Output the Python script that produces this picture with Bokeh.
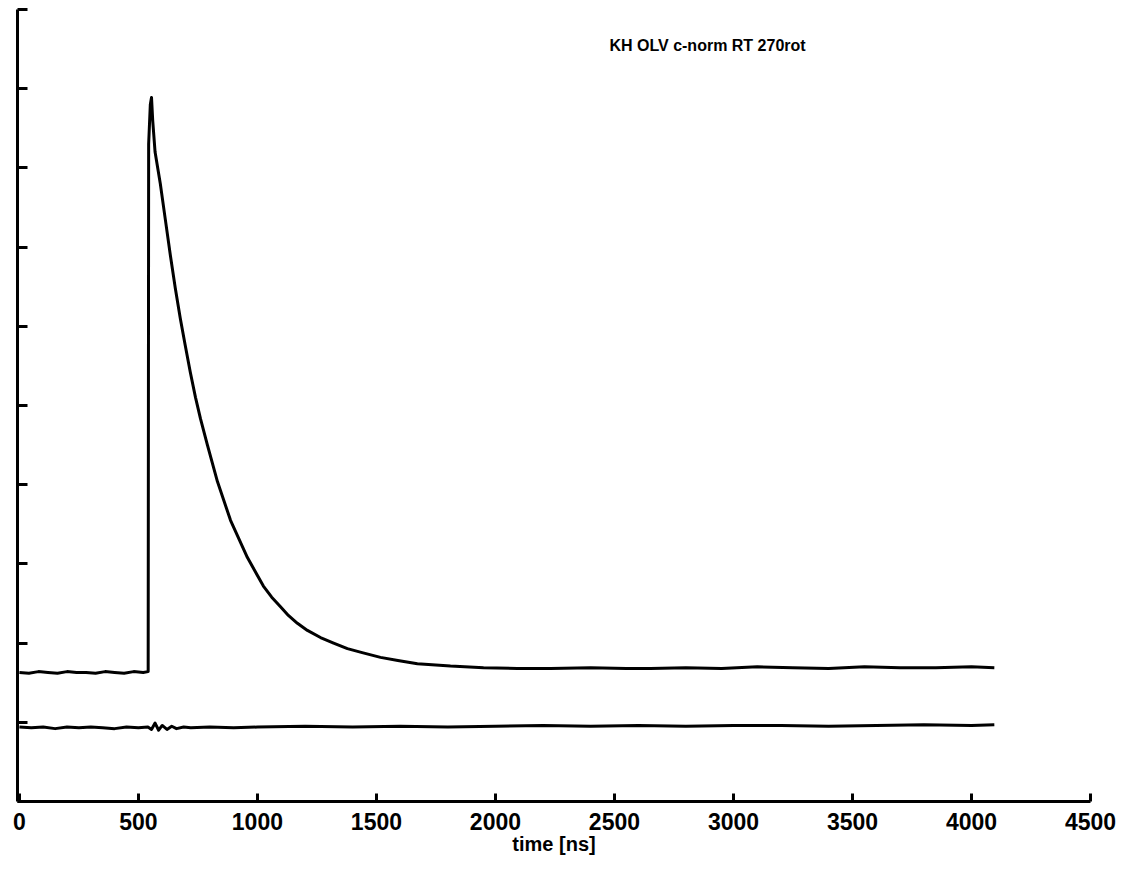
from bokeh.plotting import figure
from bokeh.models import Range1d, Label, FixedTicker
from bokeh.embed import file_html
from bokeh.resources import INLINE

# upper trace (decay signal), time [ns] and value
upper_t = [0, 40, 80, 120, 160, 200, 240, 280, 320, 360, 400, 440, 480, 520, 541,
           543, 550, 555, 560, 570, 592, 613, 634, 655, 676, 696, 718, 740, 761, 790,
           832, 887, 958, 1025, 1060, 1097, 1130, 1168, 1210, 1265, 1320, 1378, 1440,
           1517, 1590, 1672, 1811, 1950, 2092, 2231, 2400, 2550, 2651, 2800, 2950,
           3100, 3250, 3400, 3550, 3700, 3850, 4000, 4096]
upper_v = [1.63, 1.62, 1.64, 1.63, 1.62, 1.64, 1.63, 1.63, 1.62, 1.64, 1.63, 1.62, 1.64, 1.63, 1.64,
           8.30, 8.80, 8.89, 8.60, 8.20, 7.80, 7.35, 6.90, 6.48, 6.10, 5.77, 5.42, 5.10, 4.83, 4.50,
           4.04, 3.55, 3.08, 2.72, 2.58, 2.46, 2.35, 2.25, 2.16, 2.07, 2.00, 1.93, 1.88,
           1.82, 1.78, 1.74, 1.71, 1.69, 1.68, 1.68, 1.69, 1.68, 1.68, 1.69, 1.68,
           1.70, 1.69, 1.68, 1.70, 1.69, 1.69, 1.70, 1.69]

# lower trace (reference), time [ns] and value
lower_t = [0, 50, 100, 150, 200, 250, 300, 350, 400, 450, 500, 540, 555, 570, 585,
           600, 620, 640, 660, 690, 720, 800, 900, 1000, 1200, 1400, 1600, 1800,
           2000, 2200, 2400, 2600, 2800, 3000, 3200, 3400, 3600, 3800, 4000, 4096]
lower_v = [0.94, 0.93, 0.94, 0.92, 0.94, 0.93, 0.94, 0.93, 0.92, 0.94, 0.93, 0.94, 0.91, 0.99, 0.90,
           0.96, 0.91, 0.95, 0.92, 0.94, 0.93, 0.94, 0.93, 0.94, 0.95, 0.94, 0.95, 0.94,
           0.95, 0.96, 0.95, 0.96, 0.95, 0.96, 0.96, 0.95, 0.96, 0.97, 0.96, 0.97]

x_ticks = [0, 500, 1000, 1500, 2000, 2500, 3000, 3500, 4000, 4500]
y_ticks = [0, 1, 2, 3, 4, 5, 6, 7, 8, 9, 10]
title_text = "KH OLV c-norm RT 270rot"
x_label = "time [ns]"

p = figure(width=1132, height=871, output_backend="svg", toolbar_location=None,
           x_range=Range1d(-8, 4500), y_range=Range1d(0, 10),
           min_border_left=17, min_border_right=42, min_border_top=9, min_border_bottom=70)
p.outline_line_color = None
p.xgrid.visible = False
p.ygrid.visible = False
p.background_fill_color = "white"
p.border_fill_color = "white"

p.line(upper_t, upper_v, line_color="black", line_width=3, line_join="round")
p.line(lower_t, lower_v, line_color="black", line_width=3, line_join="round")

font = "Liberation Sans"
xa = p.xaxis[0]
xa.ticker = FixedTicker(ticks=x_ticks)
xa.minor_tick_line_color = None
xa.major_tick_in = 8
xa.major_tick_out = 0
xa.major_tick_line_width = 3
xa.axis_line_width = 3
xa.axis_line_color = "black"
xa.major_label_text_font = font
xa.major_label_text_font_style = "bold"
xa.major_label_text_font_size = "23px"
xa.major_label_text_color = "black"
xa.major_label_standoff = 11
xa.axis_label = x_label
xa.axis_label_text_font = font
xa.axis_label_text_font_style = "bold"
xa.axis_label_text_font_size = "20px"
xa.axis_label_text_color = "black"
xa.axis_label_standoff = 0

# y axis: unlabeled ticks only (drawn as minor ticks so no label texts are produced)
ya = p.yaxis[0]
ya.ticker = FixedTicker(ticks=[], minor_ticks=y_ticks)
ya.minor_tick_in = 10
ya.minor_tick_out = 0
ya.minor_tick_line_width = 3
ya.minor_tick_line_color = "black"
ya.axis_line_width = 3
ya.axis_line_color = "black"
ya.major_label_standoff = 0

p.add_layout(Label(x=2891, y=9.55, text=title_text, text_font=font, text_font_style="bold",
                   text_font_size="16px", text_align="center", text_baseline="middle",
                   text_color="black"))

open("out.html", "w").write(file_html(p, INLINE))
